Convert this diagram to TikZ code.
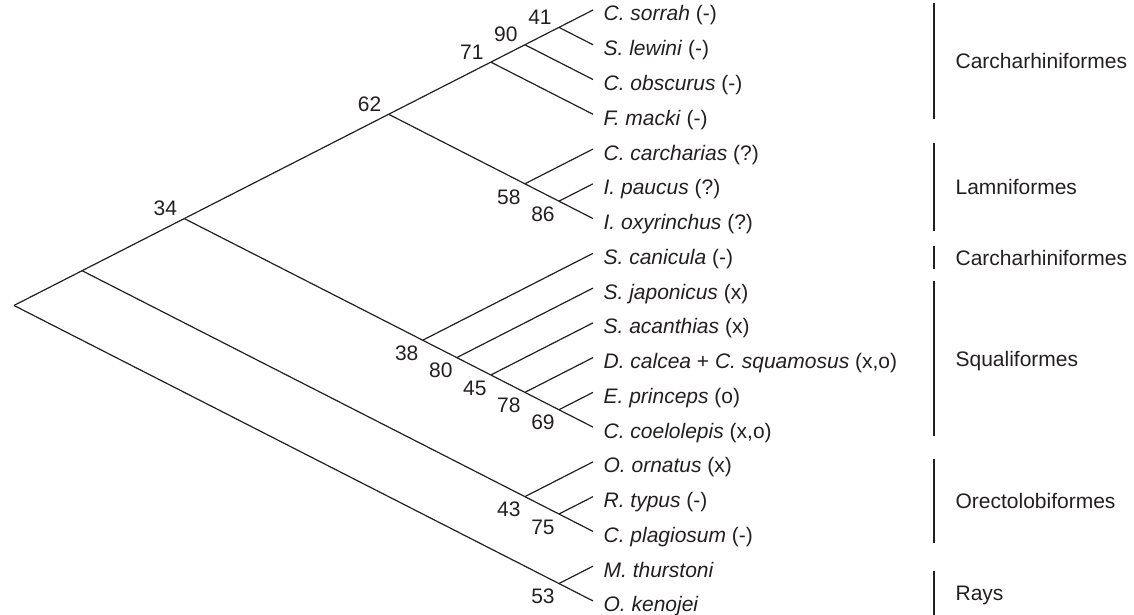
\documentclass[tikz,border=0pt]{standalone}
\usepackage{fontspec}
\setmainfont{Liberation Sans}
\definecolor{ink}{RGB}{35,31,32}
\tikzset{
  leaf/.style={anchor=base west, inner sep=0pt, shift={(10,11)}},
  supup/.style={inner sep=0pt, shift={(-19,-10)}},
  supdown/.style={inner sep=0pt, shift={(-16,13)}},
  grp/.style={anchor=west, inner sep=0pt, xshift=10.5pt, text height=7.6pt, text depth=0pt},
}
\begin{document}
\begin{tikzpicture}[x=0.5pt, y=-0.5pt, line width=0.6pt, ink,
  every node/.style={font=\fontsize{10.5}{12}\selectfont}]
\useasboundingbox (0,0) rectangle (1134,615);
% leaf tips
\coordinate (sorrah) at (593,10);
\coordinate (lewini) at (593,44.76);
\coordinate (obscurus) at (593,79.52);
\coordinate (macki) at (593,114.28);
\coordinate (carcharias) at (593,149.04);
\coordinate (paucus) at (593,183.8);
\coordinate (oxyrinchus) at (593,218.56);
\coordinate (canicula) at (593,253.32);
\coordinate (japonicus) at (593,288.08);
\coordinate (acanthias) at (593,322.84);
\coordinate (calcea) at (593,357.6);
\coordinate (princeps) at (593,392.36);
\coordinate (coelolepis) at (593,427.12);
\coordinate (ornatus) at (593,461.88);
\coordinate (typus) at (593,496.64);
\coordinate (plagiosum) at (593,531.4);
\coordinate (thurstoni) at (593,566.16);
\coordinate (kenojei) at (593,600.92);
% inner nodes
\coordinate (root) at (13.98,305.46);
\coordinate (nA) at (82.1,270.7);
\coordinate (n34) at (184.28,218.56);
\coordinate (n62) at (388.64,114.28);
\coordinate (n71) at (490.82,62.14);
\coordinate (n90) at (524.88,44.76);
\coordinate (n41) at (558.94,27.38);
\coordinate (n58) at (524.88,183.8);
\coordinate (n86) at (558.94,201.18);
\coordinate (n38) at (422.7,340.22);
\coordinate (n80) at (456.76,357.6);
\coordinate (n45) at (490.82,374.98);
\coordinate (n78) at (524.88,392.36);
\coordinate (n69) at (558.94,409.74);
\coordinate (n43) at (524.88,496.64);
\coordinate (n75) at (558.94,514.02);
\coordinate (n53) at (558.94,583.54);
% branches
\draw (root) -- (nA) -- (n34) -- (n62) -- (n71) -- (n90) -- (n41) -- (sorrah);
\draw (n41) -- (lewini);
\draw (n90) -- (obscurus);
\draw (n71) -- (macki);
\draw (n62) -- (n58) -- (n86) -- (oxyrinchus);
\draw (n58) -- (carcharias);
\draw (n86) -- (paucus);
\draw (n34) -- (n38) -- (n80) -- (n45) -- (n78) -- (n69) -- (coelolepis);
\draw (n38) -- (canicula);
\draw (n80) -- (japonicus);
\draw (n45) -- (acanthias);
\draw (n78) -- (calcea);
\draw (n69) -- (princeps);
\draw (nA) -- (n43) -- (n75) -- (plagiosum);
\draw (n43) -- (ornatus);
\draw (n75) -- (typus);
\draw (root) -- (n53) -- (kenojei);
\draw (n53) -- (thurstoni);
% species
\node[leaf] (t-sorrah) at (sorrah) {\textit{C. sorrah} (-)};
\node[leaf] (t-lewini) at (lewini) {\textit{S. lewini} (-)};
\node[leaf] (t-obscurus) at (obscurus) {\textit{C. obscurus} (-)};
\node[leaf] (t-macki) at (macki) {\textit{F. macki} (-)};
\node[leaf] (t-carcharias) at (carcharias) {\textit{C. carcharias} (?)};
\node[leaf] (t-paucus) at (paucus) {\textit{I. paucus} (?)};
\node[leaf] (t-oxyrinchus) at (oxyrinchus) {\textit{I. oxyrinchus} (?)};
\node[leaf] (t-canicula) at (canicula) {\textit{S. canicula} (-)};
\node[leaf] (t-japonicus) at (japonicus) {\textit{S. japonicus} (x)};
\node[leaf] (t-acanthias) at (acanthias) {\textit{S. acanthias} (x)};
\node[leaf] (t-calcea) at (calcea) {\textit{D. calcea} + \textit{C. squamosus} (x,o)};
\node[leaf] (t-princeps) at (princeps) {\textit{E. princeps} (o)};
\node[leaf] (t-coelolepis) at (coelolepis) {\textit{C. coelolepis} (x,o)};
\node[leaf] (t-ornatus) at (ornatus) {\textit{O. ornatus} (x)};
\node[leaf] (t-typus) at (typus) {\textit{R. typus} (-)};
\node[leaf] (t-plagiosum) at (plagiosum) {\textit{C. plagiosum} (-)};
\node[leaf] (t-thurstoni) at (thurstoni) {\textit{M. thurstoni}};
\node[leaf] (t-kenojei) at (kenojei) {\textit{O. kenojei}};
% support values
\node[supup] (s41) at (n41) {41};
\node[supup] (s90) at (n90) {90};
\node[supup] (s71) at (n71) {71};
\node[supup] (s62) at (n62) {62};
\node[supup] (s34) at (n34) {34};
\node[supdown] (s58) at (n58) {58};
\node[supdown] (s86) at (n86) {86};
\node[supdown] (s38) at (n38) {38};
\node[supdown] (s80) at (n80) {80};
\node[supdown] (s45) at (n45) {45};
\node[supdown] (s78) at (n78) {78};
\node[supdown] (s69) at (n69) {69};
\node[supdown] (s43) at (n43) {43};
\node[supdown] (s75) at (n75) {75};
\node[supdown] (s53) at (n53) {53};
% orders
\draw (934,3) -- node[grp] (g-carch) {Carcharhiniformes} (934,119);
\draw (934,143) -- node[grp] (g-lamn) {Lamniformes} (934,231);
\draw (934,246) -- node[grp] (g-carch2) {Carcharhiniformes} (934,269);
\draw (934,281) -- node[grp] (g-squal) {Squaliformes} (934,436);
\draw (934,459) -- node[grp] (g-orect) {Orectolobiformes} (934,543);
\draw (934,571) -- node[grp] (g-rays) {Rays} (934,615);
\end{tikzpicture}
\end{document}
